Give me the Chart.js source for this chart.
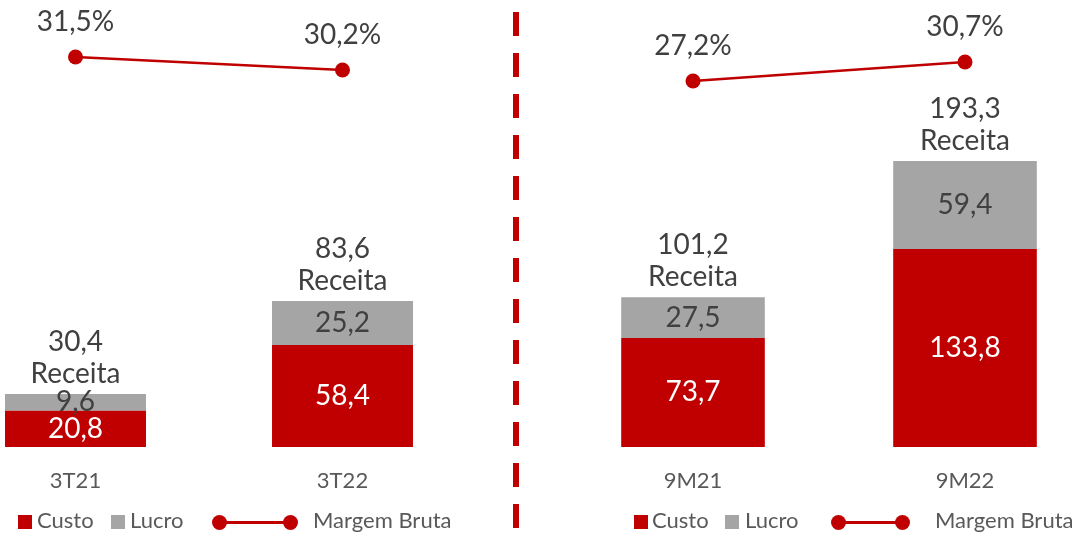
<!DOCTYPE html>
<html>
<head>
<meta charset="utf-8">
<script src="https://cdn.jsdelivr.net/npm/chart.js@4.4.1/dist/chart.umd.min.js"></script>
<style>
html,body{margin:0;padding:0;}
body{width:1084px;height:534px;overflow:hidden;background:#fff;position:relative;font-family:Lato,"Open Sans",sans-serif;}
canvas{position:absolute;top:0;}
#cL{left:-58px;}
#cR{left:557px;}
.dash{position:absolute;left:513px;top:12px;width:6px;height:522px;background:repeating-linear-gradient(to bottom,#C00000 0px,#C00000 24px,transparent 24px,transparent 41px);}
.sq{position:absolute;top:515px;width:14px;height:14px;}
.txt{position:absolute;top:506px;font-size:22px;line-height:28px;color:#595959;white-space:nowrap;}
.ln{position:absolute;top:521px;height:3px;background:#C00000;}
.dot{position:absolute;top:515px;width:15px;height:15px;border-radius:50%;background:#C00000;}
</style>
</head>
<body>
<canvas id="cL" width="534" height="534"></canvas>
<canvas id="cR" width="544" height="534"></canvas>
<div class="dash"></div>

<div class="sq" style="left:18px;background:#C00000"></div>
<div class="txt" style="left:37px">Custo</div>
<div class="sq" style="left:111px;background:#A5A5A5"></div>
<div class="txt" style="left:130px">Lucro</div>
<div class="ln" style="left:220px;width:70px"></div>
<div class="dot" style="left:212px"></div>
<div class="dot" style="left:283px"></div>
<div class="txt" style="left:313px">Margem Bruta</div>

<div class="sq" style="left:634px;background:#C00000"></div>
<div class="txt" style="left:652px">Custo</div>
<div class="sq" style="left:725px;background:#A5A5A5"></div>
<div class="txt" style="left:745px">Lucro</div>
<div class="ln" style="left:838px;width:65px"></div>
<div class="dot" style="left:831px"></div>
<div class="dot" style="left:895px"></div>
<div class="txt" style="left:935px">Margem Bruta</div>

<script>
// ---- Data ----
const categoriesLeft = ["3T21", "3T22"];
const custoLeft = [20.8, 58.4];
const lucroLeft = [9.6, 25.2];
const receitaLeft = [30.4, 83.6];
const margemLeft = [31.5, 30.2];

const categoriesRight = ["9M21", "9M22"];
const custoRight = [73.7, 133.8];
const lucroRight = [27.5, 59.4];
const receitaRight = [101.2, 193.3];
const margemRight = [27.2, 30.7];

const RED = "#C00000";
const GRAY = "#A5A5A5";
const LABEL = "#404040";
const AXIS = "#595959";
const FONT = "Lato, 'Open Sans', sans-serif";

const fmt = v => v.toFixed(1).replace(".", ",");

const labelPlugin = {
  id: "customLabels",
  afterDatasetsDraw(chart, args, opts) {
    const ctx = chart.ctx;
    const m0 = chart.getDatasetMeta(0), m1 = chart.getDatasetMeta(1), m2 = chart.getDatasetMeta(2);
    const xs = chart.scales.x;
    ctx.save();
    ctx.textAlign = "center";
    ctx.textBaseline = "middle";
    opts.categories.forEach((c, i) => {
      const b0 = m0.data[i], b1 = m1.data[i], p = m2.data[i];
      ctx.font = "28px " + FONT;
      ctx.fillStyle = "#FFFFFF";
      ctx.fillText(fmt(chart.data.datasets[0].data[i]), b0.x, (b0.y + b0.base) / 2);
      ctx.fillStyle = LABEL;
      ctx.fillText(fmt(chart.data.datasets[1].data[i]), b1.x, (b1.y + b1.base) / 2);
      ctx.fillText("Receita", b1.x, b1.y - 20);
      ctx.fillText(fmt(opts.receita[i]), b1.x, b1.y - 52);
      ctx.fillText(fmt(chart.data.datasets[2].data[i]) + "%", p.x, p.y - 35);
      ctx.font = "22px " + FONT;
      ctx.fillStyle = AXIS;
      ctx.fillText(c, xs.getPixelForValue(i), 481);
    });
    ctx.restore();
  }
};

function makeChart(id, cats, custo, lucro, receita, margem, yMax, y2Min, y2Max) {
  return new Chart(document.getElementById(id), {
    type: "bar",
    data: {
      labels: cats,
      datasets: [
        { label: "Custo", data: custo, backgroundColor: RED, stack: "s", yAxisID: "y", order: 2,
          barPercentage: 0.528, categoryPercentage: 1 },
        { label: "Lucro", data: lucro, backgroundColor: GRAY, stack: "s", yAxisID: "y", order: 2,
          barPercentage: 0.528, categoryPercentage: 1 },
        { type: "line", label: "Margem Bruta", data: margem, yAxisID: "y2", order: 0,
          borderColor: RED, backgroundColor: RED, borderWidth: 2.5, clip: false,
          pointRadius: 7.5, pointBackgroundColor: RED, pointBorderColor: RED, pointBorderWidth: 0 }
      ]
    },
    options: {
      responsive: false,
      animation: false,
      layout: { autoPadding: false, padding: { top: 0, bottom: 87, left: 0, right: 0 } },
      plugins: {
        legend: { display: false },
        tooltip: { enabled: false },
        customLabels: { categories: cats, receita: receita }
      },
      scales: {
        x: { display: false, stacked: true },
        y: { display: false, stacked: true, min: 0, max: yMax },
        y2: { display: false, min: y2Min, max: y2Max }
      }
    },
    plugins: [labelPlugin]
  });
}

makeChart("cL", categoriesLeft, custoLeft, lucroLeft, receitaLeft, margemLeft, 256, -7.5, 37.2);
makeChart("cR", categoriesRight, custoRight, lucroRight, receitaRight, margemRight, 302, -40.2, 42.12);
</script>
</body>
</html>
